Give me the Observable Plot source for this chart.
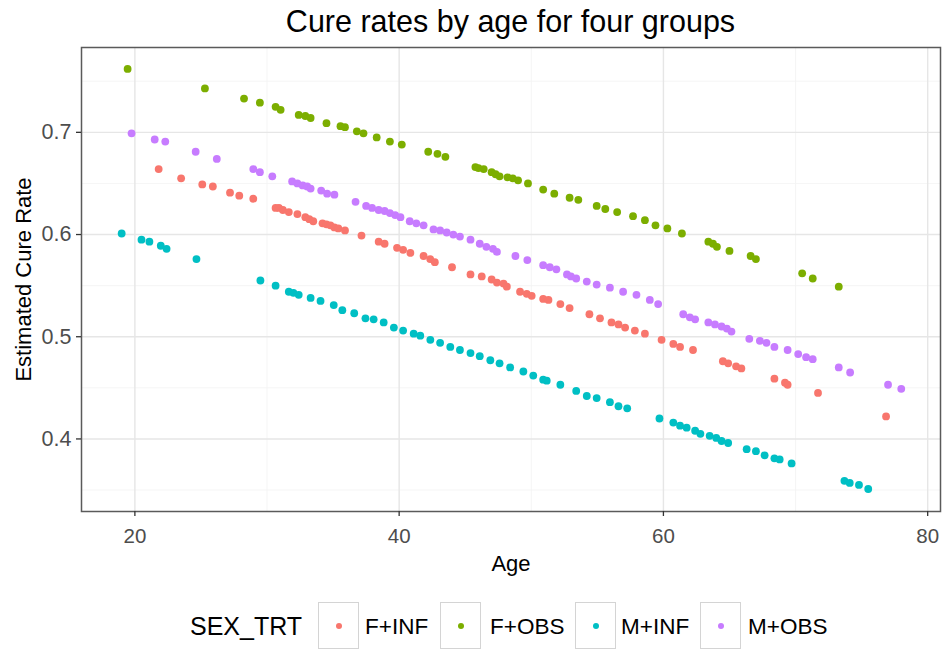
<!DOCTYPE html>
<html>
<head>
<meta charset="utf-8">
<script src="https://cdn.jsdelivr.net/npm/d3@7"></script>
<script src="https://cdn.jsdelivr.net/npm/@observablehq/plot@0.6"></script>
<style>
  body { margin: 0; background: #fff; font-family: "Liberation Sans", Arial, sans-serif; }
  #wrap { position: relative; width: 944px; height: 651px; overflow: hidden; background: #fff; }
  #title { position: absolute; left: 81px; width: 859px; top: 4px; text-align: center; font-size: 30.5px; color: #000; white-space: nowrap; }
  #chart { position: absolute; left: 0; top: 45px; }
  #legend { position: absolute; left: 0; top: 602px; width: 944px; height: 49px; }
  .lg-title { position: absolute; left: 190px; top: 10px; font-size: 25px; color: #000; }
  .lg-key { position: absolute; top: 0; width: 41px; height: 47px; border: 1.5px solid #d4d4d4; box-sizing: border-box; }
  .lg-key span { position: absolute; left: 50%; top: 50%; width: 6px; height: 6px; margin: -3px 0 0 -3px; border-radius: 50%; }
  .lg-label { position: absolute; top: 12px; font-size: 22.5px; color: #000; }
</style>
</head>
<body>
<div id="wrap">
  <div id="title">Cure rates by age for four groups</div>
  <div id="chart"></div>
  <div id="legend"></div>
</div>
<script>
// Groups and their colours (ggplot hue palette)
const groups = ["F+INF", "F+OBS", "M+INF", "M+OBS"];
const groupColors = ["#F8766D", "#7CAE00", "#00BFC4", "#C77CFF"];

// Axis ticks
const xTicks = [20, 40, 60, 80];
const xMinor = [30, 50, 70];
const yTicks = [0.4, 0.5, 0.6, 0.7];
const yMinor = [0.35, 0.45, 0.55, 0.65, 0.75];

// F+INF: age and estimated cure rate
const fInfAge = [21.8, 23.5, 25.1, 25.9, 27.2, 27.9, 28.96, 30.65, 30.9, 31.2, 31.65, 32.3, 32.9, 33.2, 33.5, 34.2, 34.5, 34.8, 35.1, 35.4, 35.9, 37.15, 38.45, 38.9, 39.84, 40.3, 40.85, 41.85, 42.35, 42.7, 44.0, 45.4, 46.25, 47.0, 47.4, 47.9, 48.15, 49.15, 49.66, 50.03, 50.9, 51.3, 52.2, 52.9, 54.4, 55.2, 56.07, 56.6, 57.1, 57.84, 58.6, 59.86, 60.75, 61.26, 62.24, 64.5, 64.9, 65.5, 65.9, 68.4, 69.2, 69.4, 71.7, 76.85];
const fInfRate = [0.664, 0.655, 0.649, 0.647, 0.641, 0.638, 0.635, 0.626, 0.626, 0.624, 0.622, 0.620, 0.617, 0.615, 0.613, 0.611, 0.610, 0.609, 0.607, 0.606, 0.604, 0.599, 0.593, 0.591, 0.587, 0.585, 0.582, 0.579, 0.576, 0.573, 0.568, 0.561, 0.559, 0.556, 0.553, 0.552, 0.549, 0.544, 0.542, 0.540, 0.537, 0.536, 0.532, 0.528, 0.522, 0.518, 0.514, 0.512, 0.509, 0.506, 0.503, 0.497, 0.493, 0.490, 0.487, 0.476, 0.474, 0.471, 0.469, 0.459, 0.455, 0.453, 0.445, 0.422];

// F+OBS
const fObsAge = [19.45, 25.3, 28.26, 29.46, 30.65, 31.03, 32.4, 32.9, 33.3, 34.5, 35.56, 35.9, 36.8, 37.3, 38.3, 39.3, 40.2, 42.2, 42.9, 43.5, 45.77, 46.0, 46.4, 47.0, 47.3, 47.6, 48.2, 48.6, 49.0, 49.75, 50.9, 51.74, 52.9, 53.56, 54.95, 55.6, 56.5, 57.7, 58.6, 59.4, 60.3, 61.4, 63.4, 63.75, 64.05, 65.0, 66.6, 67.0, 70.5, 71.3, 73.27];
const fObsRate = [0.762, 0.743, 0.733, 0.729, 0.725, 0.722, 0.717, 0.716, 0.714, 0.709, 0.706, 0.705, 0.701, 0.699, 0.695, 0.691, 0.688, 0.681, 0.679, 0.676, 0.666, 0.665, 0.664, 0.661, 0.659, 0.657, 0.656, 0.655, 0.653, 0.650, 0.644, 0.640, 0.636, 0.634, 0.628, 0.625, 0.622, 0.618, 0.614, 0.609, 0.606, 0.601, 0.593, 0.591, 0.588, 0.584, 0.579, 0.576, 0.562, 0.557, 0.549];

// M+INF
const mInfAge = [19.0, 20.5, 21.1, 21.96, 22.4, 24.66, 29.5, 30.65, 31.65, 32.0, 32.4, 33.3, 34.05, 35.05, 35.7, 36.6, 37.45, 38.07, 38.83, 39.6, 40.3, 41.1, 41.6, 42.36, 43.1, 43.87, 44.6, 45.4, 46.1, 46.9, 47.6, 48.4, 49.4, 50.15, 50.9, 51.17, 52.2, 53.4, 54.2, 54.95, 55.95, 56.6, 57.26, 59.7, 60.75, 61.26, 61.76, 62.4, 62.8, 63.5, 64.0, 64.4, 64.9, 66.3, 67.0, 67.66, 68.4, 68.8, 69.7, 73.7, 74.1, 74.8, 75.5];
const mInfRate = [0.601, 0.595, 0.593, 0.589, 0.586, 0.576, 0.555, 0.550, 0.544, 0.543, 0.541, 0.538, 0.535, 0.531, 0.526, 0.523, 0.518, 0.517, 0.514, 0.509, 0.506, 0.503, 0.501, 0.497, 0.494, 0.490, 0.487, 0.484, 0.481, 0.477, 0.474, 0.470, 0.466, 0.462, 0.458, 0.457, 0.453, 0.447, 0.442, 0.440, 0.436, 0.432, 0.430, 0.420, 0.416, 0.413, 0.411, 0.408, 0.405, 0.403, 0.401, 0.398, 0.396, 0.390, 0.388, 0.384, 0.381, 0.380, 0.376, 0.359, 0.357, 0.355, 0.351];

// M+OBS
const mObsAge = [19.75, 21.5, 22.3, 24.6, 26.2, 28.96, 29.46, 30.4, 31.9, 32.3, 32.7, 33.04, 33.3, 34.1, 34.55, 35.1, 36.7, 37.5, 37.95, 38.45, 38.9, 39.3, 39.7, 40.1, 40.8, 41.3, 41.85, 42.6, 43.1, 43.6, 44.1, 44.6, 45.4, 46.1, 46.6, 47.1, 47.4, 48.8, 49.7, 50.9, 51.4, 51.9, 52.7, 53.0, 53.4, 54.2, 54.95, 55.95, 56.95, 57.96, 58.97, 59.6, 61.5, 62.0, 62.4, 63.4, 63.9, 64.4, 64.8, 65.15, 66.5, 67.3, 67.8, 68.4, 69.4, 70.2, 70.8, 71.3, 73.27, 74.13, 77.0, 78.0];
const mObsRate = [0.699, 0.693, 0.691, 0.681, 0.674, 0.664, 0.661, 0.657, 0.652, 0.650, 0.648, 0.647, 0.645, 0.643, 0.640, 0.639, 0.632, 0.628, 0.626, 0.624, 0.623, 0.621, 0.619, 0.617, 0.613, 0.611, 0.609, 0.605, 0.604, 0.602, 0.600, 0.598, 0.595, 0.591, 0.588, 0.586, 0.583, 0.579, 0.575, 0.570, 0.568, 0.566, 0.561, 0.559, 0.557, 0.554, 0.551, 0.548, 0.544, 0.541, 0.536, 0.532, 0.522, 0.519, 0.517, 0.514, 0.512, 0.510, 0.508, 0.505, 0.498, 0.496, 0.494, 0.490, 0.487, 0.483, 0.480, 0.478, 0.470, 0.465, 0.453, 0.449];

// Long-format table for the dot mark
const series = [[fInfAge, fInfRate], [fObsAge, fObsRate], [mInfAge, mInfRate], [mObsAge, mObsRate]];
const data = series.flatMap(([ages, rates], i) =>
  ages.map((age, j) => ({ group: groups[i], age, rate: rates[j] })));

const chart = Plot.plot({
  width: 944,
  height: 560,
  marginLeft: 81,
  marginRight: 4,
  marginTop: 2,
  marginBottom: 94,
  style: { fontFamily: "'Liberation Sans', Arial, sans-serif", background: "#fff", overflow: "visible" },
  x: { domain: [15.96, 80.97] },
  y: { domain: [0.329, 0.783] },
  color: { domain: groups, range: groupColors },
  marks: [
    Plot.gridX(xMinor, { stroke: "#f2f2f2", strokeOpacity: 1, strokeWidth: 0.8 }),
    Plot.gridY(yMinor, { stroke: "#f2f2f2", strokeOpacity: 1, strokeWidth: 0.8 }),
    Plot.gridX(xTicks, { stroke: "#e6e6e6", strokeOpacity: 1, strokeWidth: 1.4 }),
    Plot.gridY(yTicks, { stroke: "#e6e6e6", strokeOpacity: 1, strokeWidth: 1.4 }),
    Plot.dot(data, { x: "age", y: "rate", fill: "group", r: 3.9 }),
    Plot.frame({ stroke: "#5a5a5a", strokeWidth: 1.5 }),
    Plot.axisX(xTicks, { tickSize: 5, tickPadding: 12, fontSize: 20.5, fill: "#4d4d4d", stroke: "#333", strokeWidth: 1.3, label: null }),
    Plot.axisY(yTicks, { tickSize: 5, tickPadding: 5, fontSize: 21.5, fill: "#4d4d4d", stroke: "#333", strokeWidth: 1.3, label: null, tickFormat: d3.format(".1f") }),
    Plot.text(["Age"], { frameAnchor: "bottom", lineAnchor: "top", dy: 44, fontSize: 22, fill: "#000", text: d => d }),
    Plot.text(["Estimated Cure Rate"], { frameAnchor: "left", textAnchor: "middle", rotate: -90, dx: -58, fontSize: 22, fill: "#000", text: d => d })
  ]
});
document.getElementById("chart").appendChild(chart);

// Legend: title, then one boxed key per group
const legend = document.getElementById("legend");
const keyLeft = [318, 440, 575, 700];
const labelLeft = [365, 490, 621, 748];
legend.insertAdjacentHTML("beforeend", `<div class="lg-title">SEX_TRT</div>`);
groups.forEach((g, i) => {
  legend.insertAdjacentHTML("beforeend",
    `<div class="lg-key" style="left:${keyLeft[i]}px"><span style="background:${groupColors[i]}"></span></div>` +
    `<div class="lg-label" style="left:${labelLeft[i]}px">${g}</div>`);
});
</script>
</body>
</html>
